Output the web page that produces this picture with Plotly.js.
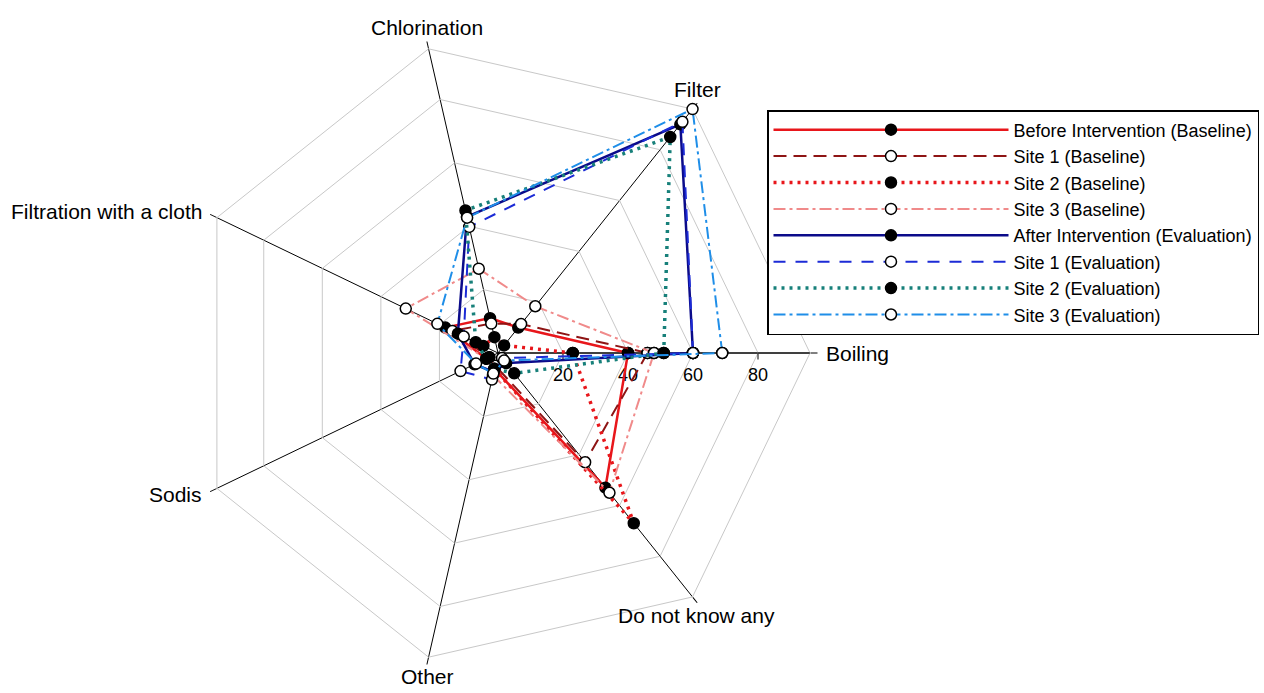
<!DOCTYPE html>
<html>
<head>
<meta charset="utf-8">
<script src="https://cdn.plot.ly/plotly-3.0.1.min.js"></script>
<style>
  html, body { margin: 0; padding: 0; background: #ffffff; }
  #chart { width: 1264px; height: 693px; }
</style>
</head>
<body>
<div id="chart"></div>
<script>
// Household water treatment methods known (%), baseline vs evaluation
const categories = ['Boiling', 'Filter', 'Chlorination', 'Filtration with a cloth', 'Sodis', 'Other', 'Do not know any'];

const beforeBaseline = [40, 10, 11, 18, 4, 5, 53];
const site1Baseline  = [46, 11.4, 9.3, 15.6, 3, 4, 43];
const site2Baseline  = [23, 3, 5, 5, 3, 5, 67];
const site3Baseline  = [48, 18.4, 26.6, 31.5, 4, 7, 55];

const afterEvaluation = [60, 90, 43, 13.7, 8, 6, 4];
const site1Evaluation = [60, 91, 39.8, 11.7, 12.8, 8.4, 2];
const site2Evaluation = [51, 85, 45, 7.6, 4, 5, 8];
const site3Evaluation = [69, 96, 42.7, 20.7, 7.5, 6.5, 3];

const radialTicks = [20, 40, 60, 80];

const FONT = 'Liberation Sans, Arial, sans-serif';

function closed(arr) { return arr.concat([arr[0]]); }

function series(name, values, color, width, dash, filled) {
  return {
    type: 'scatterpolar',
    mode: 'lines+markers',
    name: name,
    r: closed(values),
    theta: closed(categories),
    line: { color: color, width: width, dash: dash },
    marker: {
      size: 11,
      color: filled ? '#000000' : '#ffffff',
      line: { color: '#000000', width: 1.5 }
    },
    hoverinfo: 'name+r+theta'
  };
}

const traces = [
  series('Before Intervention (Baseline)', beforeBaseline, '#e8161b', 2.5, 'solid', true),
  series('Site 1 (Baseline)', site1Baseline, '#8e1414', 2, '13px,7px', false),
  series('Site 2 (Baseline)', site2Baseline, '#e8161b', 3.5, '3px,5px', true),
  series('Site 3 (Baseline)', site3Baseline, '#f08a8a', 2, '12px,4px,3px,4px', false),
  series('After Intervention (Evaluation)', afterEvaluation, '#0b0b8a', 2.5, 'solid', true),
  series('Site 1 (Evaluation)', site1Evaluation, '#1c2bd6', 2, '12px,10px', false),
  series('Site 2 (Evaluation)', site2Evaluation, '#17807a', 3.5, '3px,5px', true),
  series('Site 3 (Evaluation)', site3Evaluation, '#1f8ee8', 2, '12px,4px,3px,4px', false)
];

const W = 1264, H = 693;
const cx = 498, cy = 353, R = 312;

// Category labels sit just outside the end of each spoke
const labelAnnotations = categories.map(function (name, i) {
  const a = i * 2 * Math.PI / categories.length;
  const c = Math.cos(a), s = Math.sin(a);
  const side = Math.abs(c) > 0.8;
  const d = side ? 14 : (s < 0 ? 6 : 8);
  const px = cx + (R + d) * c;
  const py = cy - (R + d) * s;
  return {
    text: name,
    xref: 'paper', yref: 'paper',
    x: px / W, y: 1 - py / H,
    xanchor: side ? (c > 0 ? 'left' : 'right') : 'center',
    yanchor: side ? 'middle' : (s > 0 ? 'bottom' : 'top'),
    showarrow: false,
    font: { family: FONT, size: 21, color: '#000000' }
  };
});

const layout = {
  width: W,
  height: H,
  margin: { l: 0, r: 0, t: 0, b: 0 },
  paper_bgcolor: '#ffffff',
  font: { family: FONT, color: '#000000' },
  showlegend: true,
  annotations: labelAnnotations,
  polar: {
    domain: {
      x: [(cx - R) / W, (cx + R) / W],
      y: [1 - (cy + R) / H, 1 - (cy - R) / H]
    },
    bgcolor: '#ffffff',
    gridshape: 'linear',
    radialaxis: {
      range: [0, 96],
      tickvals: radialTicks,
      ticktext: radialTicks.map(String),
      angle: 0,
      showline: true,
      linecolor: '#000000',
      linewidth: 1,
      gridcolor: '#c8c8c8',
      gridwidth: 1,
      ticks: 'outside',
      ticklen: 6,
      tickcolor: '#000000',
      tickfont: { family: FONT, size: 18, color: '#000000' },
      layer: 'below traces'
    },
    angularaxis: {
      type: 'category',
      categoryarray: categories,
      rotation: 0,
      direction: 'counterclockwise',
      showline: true,
      linecolor: '#c8c8c8',
      linewidth: 1,
      gridcolor: '#000000',
      gridwidth: 1,
      ticks: 'outside',
      ticklen: 7,
      tickcolor: '#000000',
      showticklabels: false,
      layer: 'below traces'
    }
  },
  legend: {
    x: 767 / W,
    y: 1 - 110 / H,
    xanchor: 'left',
    yanchor: 'top',
    bgcolor: '#ffffff',
    bordercolor: '#000000',
    borderwidth: 1.5,
    itemwidth: 235,
    font: { family: FONT, size: 18, color: '#000000' }
  }
};

Plotly.newPlot('chart', traces, layout, { displayModeBar: false, staticPlot: true });
</script>
</body>
</html>
